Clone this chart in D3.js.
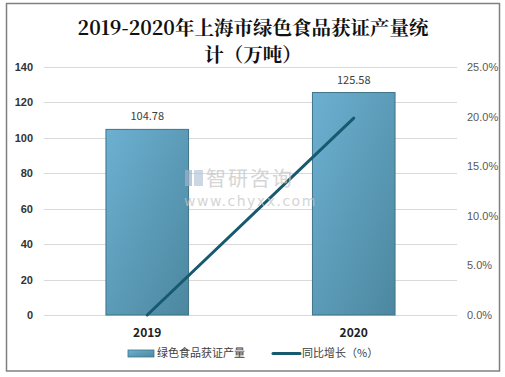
<!DOCTYPE html>
<meta charset="utf-8">
<style>
body { margin: 0; background: #fff; }
svg { display: block; font-family: "Noto Sans CJK SC", "DejaVu Sans", sans-serif; }
.grid line { stroke: #d9d9d9; stroke-width: 1; }
.axis text { font-size: 11px; }
</style>
<body>
<script src="https://d3js.org/d3.v7.min.js"></script>
<script>
// chart data
var years = ["2019", "2020"];
var output = [104.78, 125.58];      // 万吨
var growth = [0, 19.85];            // %
var leftTicks = [0, 20, 40, 60, 80, 100, 120, 140];
var rightTicks = [0, 5, 10, 15, 20, 25];
var titleLines = ["2019-2020年上海市绿色食品获证产量统", "计（万吨）"];

var W = 505, H = 377;
var margin = {top: 67, right: 48, bottom: 62, left: 44},
    width = W - margin.left - margin.right,
    height = H - margin.top - margin.bottom;

var svg = d3.select("body").append("svg")
    .attr("width", W)
    .attr("height", H);

// gradient for bars
var defs = svg.append("defs");
var grad = defs.append("linearGradient")
    .attr("id", "barGrad")
    .attr("x1", "0%").attr("y1", "0%").attr("x2", "100%").attr("y2", "100%");
grad.append("stop").attr("offset", "0%").attr("stop-color", "#6cb0d1");
grad.append("stop").attr("offset", "100%").attr("stop-color", "#4c879f");

// outer frame
svg.append("rect")
    .attr("x", 6.5).attr("y", 3.5)
    .attr("width", 493).attr("height", 367.5)
    .attr("fill", "none")
    .attr("stroke", "#808080")
    .attr("stroke-width", 1.5);

// title, two lines
svg.selectAll(".title")
  .data(titleLines)
  .enter().append("text")
    .attr("class", "title")
    .attr("x", 253)
    .attr("y", function(d, i) { return 35 + i * 27; })
    .attr("text-anchor", "middle")
    .style("font-size", "19.5px")
    .style("font-weight", "bold")
    .style("font-family", "'Noto Serif CJK SC', 'Noto Sans CJK SC', serif")
    .attr("fill", "#111")
    .text(function(d) { return d; });

var g = svg.append("g")
    .attr("transform", "translate(" + margin.left + "," + margin.top + ")");

var x = d3.scaleBand().domain(years).range([0, width]);
var y = d3.scaleLinear().domain([0, 140]).range([height, 0]);
var y2 = d3.scaleLinear().domain([0, 25]).range([height, 0]);

// grid
g.append("g").attr("class", "grid")
  .selectAll("line")
  .data(leftTicks)
  .enter().append("line")
    .attr("x1", 0).attr("x2", width)
    .attr("y1", function(d) { return Math.round(y(d)) + 0.5; })
    .attr("y2", function(d) { return Math.round(y(d)) + 0.5; });

// left axis
var yAxis = g.append("g").attr("class", "axis")
    .call(d3.axisLeft(y).tickValues(leftTicks).tickSize(0).tickPadding(11));
yAxis.select(".domain").remove();
yAxis.selectAll("text").attr("fill", "#333").style("font-weight", "bold");

// right axis
var yAxis2 = g.append("g").attr("class", "axis")
    .attr("transform", "translate(" + width + ",0)")
    .call(d3.axisRight(y2).tickValues(rightTicks).tickSize(0).tickPadding(10)
      .tickFormat(function(d) { return d.toFixed(1) + "%"; }));
yAxis2.select(".domain").remove();
yAxis2.selectAll("text").attr("fill", "#595959");

// x labels
g.append("g").selectAll("text")
  .data(years)
  .enter().append("text")
    .attr("x", function(d) { return x(d) + x.bandwidth() / 2; })
    .attr("y", height + 22)
    .attr("text-anchor", "middle")
    .style("font-size", "12px")
    .style("font-weight", "bold")
    .attr("fill", "#222")
    .text(function(d) { return d; });

// bars
var bw = x.bandwidth() * 0.4;
g.selectAll(".bar")
  .data(output)
  .enter().append("rect")
    .attr("class", "bar")
    .attr("x", function(d, i) { return x(years[i]) + (x.bandwidth() - bw) / 2; })
    .attr("y", function(d) { return y(d); })
    .attr("width", bw)
    .attr("height", function(d) { return height - y(d); })
    .attr("fill", "url(#barGrad)")
    .attr("stroke", "#3f7389")
    .attr("stroke-width", 1);

// bar labels
g.selectAll(".lbl")
  .data(output)
  .enter().append("text")
    .attr("x", function(d, i) { return x(years[i]) + x.bandwidth() / 2; })
    .attr("y", function(d) { return y(d) - 9; })
    .attr("text-anchor", "middle")
    .style("font-size", "11px")
    .attr("fill", "#404040")
    .text(function(d) { return d.toFixed(2); });

// watermark
var wm = svg.append("g").attr("opacity", 0.7);
wm.append("rect").attr("x", 185).attr("y", 170).attr("width", 7).attr("height", 16).attr("fill", "#9fb3c8");
wm.append("rect").attr("x", 194).attr("y", 170).attr("width", 9).attr("height", 16).attr("fill", "#b6c8d9");
wm.append("text")
    .attr("x", 206).attr("y", 186)
    .style("font-size", "20px")
    .attr("fill", "#c4c4c4")
    .attr("letter-spacing", "2px")
    .text("智研咨询");
wm.append("text")
    .attr("x", 184).attr("y", 206)
    .style("font-size", "14px")
    .style("font-family", "'DejaVu Sans', sans-serif")
    .attr("fill", "#c4c4c4")
    .attr("letter-spacing", "1.5px")
    .text("www.chyxx.com");

// growth line
var line = d3.line()
    .x(function(d, i) { return x(years[i]) + x.bandwidth() / 2; })
    .y(function(d) { return y2(d); });
g.append("path")
    .datum(growth)
    .attr("fill", "none")
    .attr("stroke", "#175a70")
    .attr("stroke-width", 3)
    .attr("stroke-linecap", "round")
    .attr("d", line);

// legend
var lg = svg.append("g").attr("transform", "translate(0,353)");
lg.append("rect")
    .attr("x", 128).attr("y", -3).attr("width", 26).attr("height", 7)
    .attr("fill", "url(#barGrad)").attr("stroke", "#3f7389").attr("stroke-width", 0.8);
lg.append("text")
    .attr("x", 157).attr("y", 4)
    .style("font-size", "11px").attr("fill", "#404040")
    .text("绿色食品获证产量");
lg.append("line")
    .attr("x1", 273).attr("x2", 300).attr("y1", 0.5).attr("y2", 0.5)
    .attr("stroke", "#175a70").attr("stroke-width", 3).attr("stroke-linecap", "round");
lg.append("text")
    .attr("x", 302).attr("y", 4)
    .style("font-size", "11px").attr("fill", "#404040")
    .text("同比增长（%）");
</script>
</body>
